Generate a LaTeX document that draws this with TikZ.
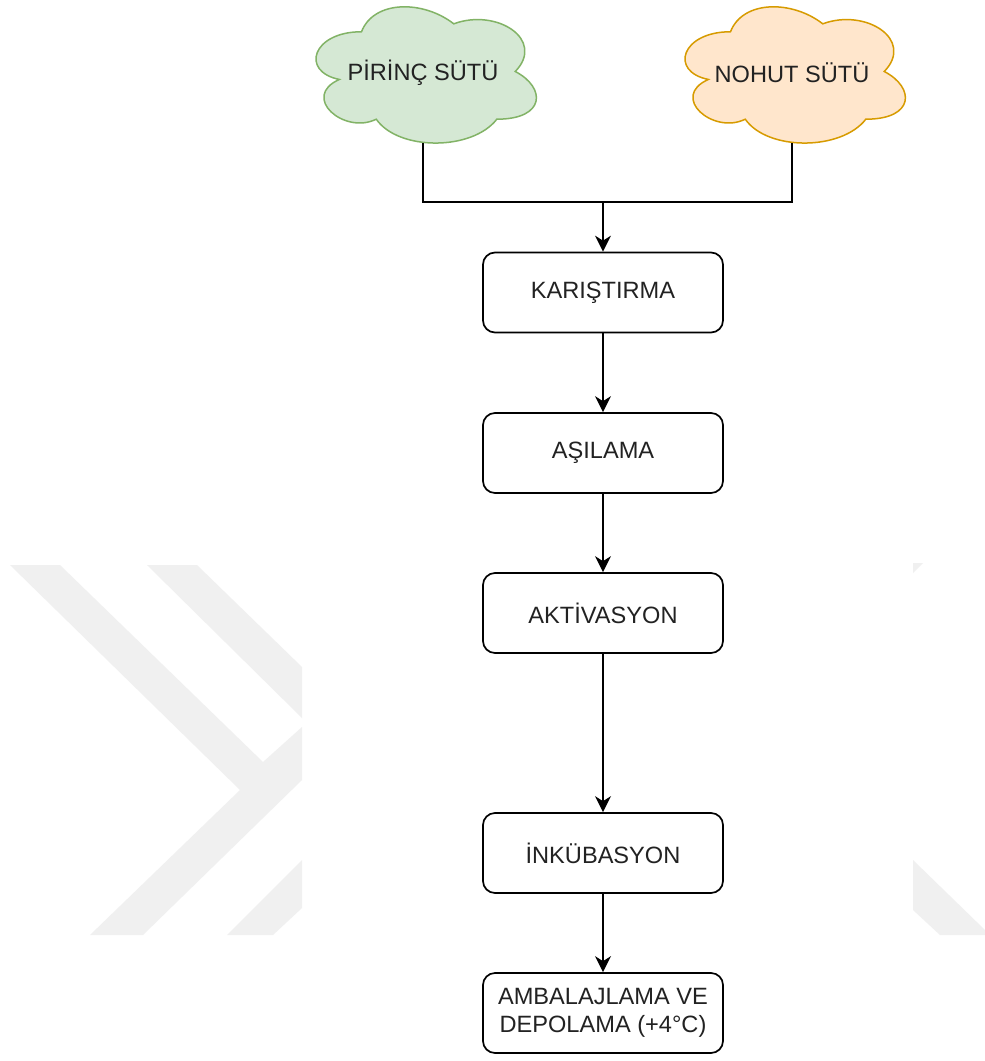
\documentclass[tikz,border=0pt]{standalone}
\usepackage{fontspec}
\setmainfont{Liberation Sans}
\usetikzlibrary{arrows.meta}
\definecolor{wm}{HTML}{F0F0F0}
\definecolor{gfill}{HTML}{D5E8D4}
\definecolor{gline}{HTML}{82B366}
\definecolor{ofill}{HTML}{FFE6CC}
\definecolor{oline}{HTML}{D79B00}
\definecolor{txt}{HTML}{222222}
\newcommand{\drawcloud}[5]{%
\begin{scope}[shift={(#2,#3)}, xscale=#4, yscale=#5]
\path[#1] (0.25,0.25) .. controls (0.05,0.25) and (0,0.5) .. (0.16,0.55)
 .. controls (0,0.66) and (0.18,0.9) .. (0.31,0.8)
 .. controls (0.4,1) and (0.7,1) .. (0.8,0.8)
 .. controls (1,0.8) and (1,0.6) .. (0.875,0.5)
 .. controls (1,0.3) and (0.8,0.1) .. (0.625,0.2)
 .. controls (0.5,0.05) and (0.3,0.05) .. (0.25,0.25) -- cycle;
\end{scope}}
\begin{document}
\begin{tikzpicture}[x=1pt,y=-1pt,
  every node/.style={font=\fontsize{23.6}{28.3}\selectfont, text=txt},
  stepbox/.style={draw=black, fill=white, line width=1.7pt, rounded corners=12pt,
    minimum width=240pt, minimum height=80pt, align=center, inner sep=0pt},
  cloudtext/.style={inner sep=0pt},
  conn/.style={line width=1.6pt, draw=black},
  arr/.style={conn, -{Stealth[length=16pt,width=16pt,inset=5pt]}},
  wmark/.style={fill=wm, draw=none}]
\useasboundingbox (0,0) rectangle (985,1061);
\fill[white] (0,0) rectangle (985,1061);
% watermark
\path[wmark] (10,565) -- (60,565) -- (263,762) -- (302,727) -- (302,780) -- (143,935) -- (90,935) -- (240,790) -- cycle;
\path[wmark] (147,565) -- (197,565) -- (302,667) -- (302,718) -- cycle;
\path[wmark] (302,860) -- (302,908) -- (273,935) -- (227,935) -- cycle;
\path[wmark] (913,563) -- (923,563) -- (913,573) -- cycle;
\path[wmark] (913,860) -- (985,930) -- (985,935) -- (940,935) -- (913,910) -- cycle;
% clouds
\drawcloud{fill=gfill, draw=gline, line width=1.5pt}{300}{-8}{246}{159}
\drawcloud{fill=ofill, draw=oline, line width=1.5pt}{669}{-8}{246}{159}
\node[cloudtext] (pirinc) at (423,73) {PİRİNÇ SÜTÜ};
\node[cloudtext] (nohut) at (792,73) {NOHUT SÜTÜ};
\coordinate (pirincB) at (423,143);
\coordinate (nohutB) at (792,143);
\coordinate (join) at (603,202);
% boxes
\node[stepbox] (k) at (603,292.5) {KARIŞTIRMA};
\node[stepbox] (a) at (603,453) {AŞILAMA};
\node[stepbox] (ak) at (603,613) {AKTİVASYON};
\node[stepbox] (i) at (603,853) {İNKÜBASYON};
\node[stepbox] (amb) at (603,1013) {AMBALAJLAMA VE\\DEPOLAMA (+4°C)};
% connectors
\draw[conn] (pirincB) |- (join);
\draw[conn] (nohutB) |- (join);
\draw[arr] (join) -- (k.north);
\draw[arr] (k) -- (a);
\draw[arr] (a) -- (ak);
\draw[arr] (ak) -- (i);
\draw[arr] (i) -- (amb);
\end{tikzpicture}
\end{document}
